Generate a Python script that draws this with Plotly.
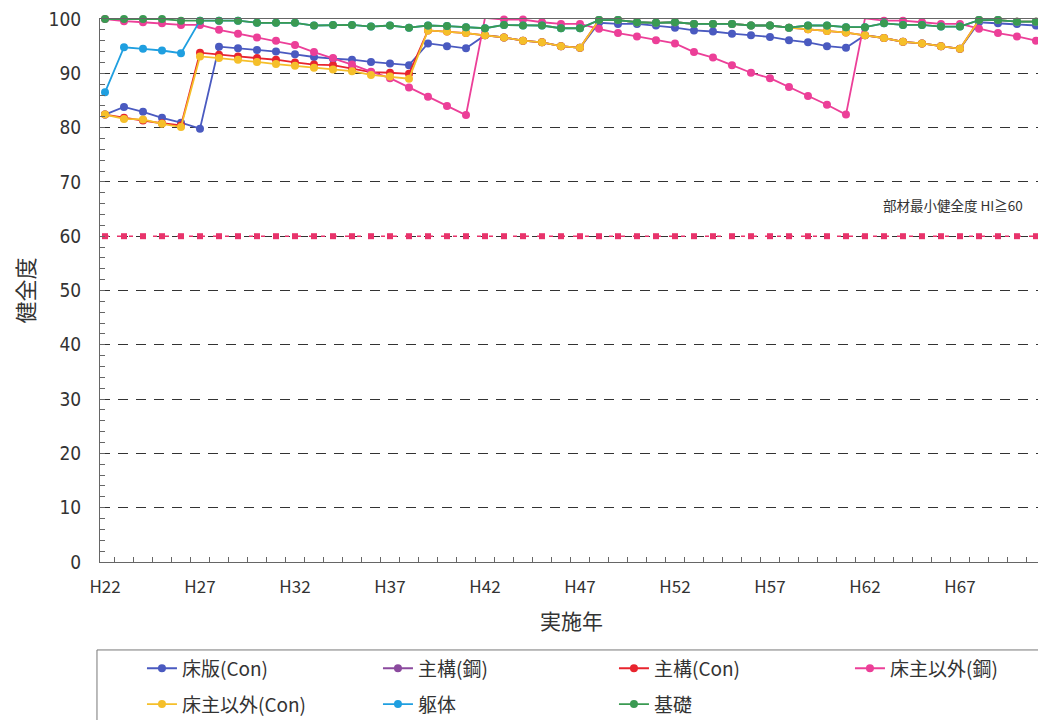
import plotly.graph_objects as go

years = list(range(22, 72))  # H22 .. H71

# 床版(Con)
slab_con = [82.4, 83.8, 82.9, 81.8, 80.9, 79.8, 94.9, 94.6, 94.3, 94.0,
            93.5, 93.0, 92.7, 92.5, 92.1, 91.8, 91.5, 95.5, 95.0, 94.6,
            97.0, 96.6, 96.0, 95.7, 95.0, 94.7, 99.3, 99.1, 99.1, 98.8,
            98.4, 97.9, 97.7, 97.3, 97.0, 96.7, 96.1, 95.7, 95.0, 94.7,
            97.0, 96.5, 95.8, 95.5, 95.0, 94.5, 99.4, 99.2, 99.1, 98.8]
# 主構(鋼) — no plotted values
main_steel = [None] * 50
# 主構(Con)
main_con = [82.4, 81.8, 81.3, 80.8, 80.4, 93.8, 93.4, 93.1, 92.8, 92.5,
            92.0, 91.6, 91.5, 90.8, 90.2, 90.1, 89.9, 97.9, 97.7, 97.4,
            97.0, 96.6, 96.0, 95.7, 95.0, 94.7, 99.8, 99.8, 99.4, 99.3,
            99.4, 99.1, 99.1, 99.1, 98.8, 98.8, 98.4, 98.1, 97.8, 97.5,
            97.0, 96.5, 95.8, 95.5, 95.0, 94.5, 99.8, 99.8, 99.5, 99.5]
# 床主以外(鋼)
other_steel = [100.0, 99.6, 99.4, 99.2, 98.9, 98.9, 98.0, 97.3, 96.6, 96.0,
               95.2, 93.9, 92.8, 91.6, 90.3, 89.1, 87.4, 85.7, 84.0, 82.3,
               100.2, 99.9, 99.9, 99.4, 99.1, 99.1, 98.2, 97.4, 96.8, 96.1,
               95.5, 93.9, 92.9, 91.5, 90.1, 89.1, 87.5, 85.8, 84.2, 82.4,
               100.1, 99.7, 99.7, 99.4, 99.1, 99.1, 98.2, 97.4, 96.8, 96.0]
# 床主以外(Con)
other_con = [82.4, 81.6, 81.5, 80.7, 80.1, 93.1, 92.8, 92.5, 92.1, 91.7,
             91.4, 91.0, 90.7, 90.4, 89.7, 89.4, 89.0, 97.9, 97.7, 97.4,
             97.0, 96.6, 96.0, 95.7, 95.0, 94.7, 99.8, 99.8, 99.4, 99.3,
             99.4, 99.1, 99.1, 99.1, 98.8, 98.8, 98.4, 98.1, 97.8, 97.5,
             97.0, 96.5, 95.8, 95.5, 95.0, 94.5, 99.8, 99.8, 99.5, 99.5]
# 躯体
body = [86.5, 94.8, 94.5, 94.2, 93.7, 99.7, 99.7, 99.7, 99.3, 99.3,
        99.3, 98.8, 98.9, 98.9, 98.6, 98.8, 98.4, 98.8, 98.7, 98.5,
        98.3, 98.9, 98.8, 98.8, 98.3, 98.3, 99.8, 99.8, 99.4, 99.3,
        99.4, 99.1, 99.1, 99.1, 98.8, 98.8, 98.4, 98.8, 98.8, 98.5,
        98.5, 99.2, 98.9, 98.9, 98.6, 98.6, 99.8, 99.8, 99.5, 99.5]
# 基礎
foundation = [100.0, 100.0, 100.0, 100.0, 99.7, 99.7, 99.7, 99.7, 99.3, 99.3,
              99.3, 98.8, 98.9, 98.9, 98.6, 98.8, 98.4, 98.8, 98.7, 98.5,
              98.3, 98.9, 98.8, 98.8, 98.3, 98.3, 99.8, 99.8, 99.4, 99.3,
              99.4, 99.1, 99.1, 99.1, 98.8, 98.8, 98.4, 98.8, 98.8, 98.5,
              98.5, 99.2, 98.9, 98.9, 98.6, 98.6, 99.8, 99.8, 99.5, 99.5]
# 部材最小健全度
threshold = [60] * 50

series = [
    ("床版(Con)", slab_con, "#4a5ac0", "legend"),
    ("主構(鋼)", main_steel, "#8b4a9e", "legend"),
    ("主構(Con)", main_con, "#e8242e", "legend"),
    ("床主以外(鋼)", other_steel, "#ec3f98", "legend"),
    ("床主以外(Con)", other_con, "#f5bf2a", "legend2"),
    ("躯体", body, "#1f9fe0", "legend2"),
    ("基礎", foundation, "#3a9a52", "legend2"),
]

FONT = "Noto Sans CJK JP"
NUMFONT = "Liberation Sans Narrow, DejaVu Sans Condensed, Liberation Sans"
fig = go.Figure()
for name, vals, col, leg in series:
    fig.add_trace(go.Scatter(
        x=years, y=vals, name=name, mode="lines+markers",
        line=dict(color=col, width=1.8),
        marker=dict(color=col, size=8),
        cliponaxis=False, legend=leg,
    ))

fig.add_trace(go.Scatter(
    x=years, y=threshold, mode="lines+markers", showlegend=False,
    line=dict(color="#e8336b", width=1.5, dash="4px,8px"),
    marker=dict(symbol="square", color="#e8336b", size=6),
    cliponaxis=False,
))

fig.add_annotation(
    x=70.4, y=65.7, xref="x", yref="y", text="部材最小健全度 HI≧60",
    showarrow=False, xanchor="right", yanchor="middle",
    font=dict(family=FONT, size=13.5, color="#333"),
)

# legend frame
fig.add_shape(type="rect", xref="paper", yref="paper",
              x0=-0.0032, x1=1.03, y0=-0.162, y1=-0.33,
              line=dict(color="#777", width=1), fillcolor="rgba(0,0,0,0)",
              layer="below")

leg_common = dict(
    orientation="h", xanchor="left", yanchor="top",
    entrywidth=191, entrywidthmode="pixels",
    borderwidth=0, bgcolor="rgba(0,0,0,0)",
    font=dict(family=FONT, size=19, color="#333"),
)

fig.update_layout(
    width=1046, height=720,
    margin=dict(l=92, r=11, t=11, b=166, autoexpand=False),
    paper_bgcolor="white", plot_bgcolor="white",
    font=dict(family=FONT, color="#333"),
    showlegend=True,
    legend=dict(x=0.0445, y=-0.161, **leg_common),
    legend2=dict(x=0.0445, y=-0.227, **leg_common),
    xaxis=dict(
        range=[21.737, 71.37], tickmode="linear", tick0=22, dtick=5,
        tickprefix="H", ticks="", showgrid=False, zeroline=False,
        showline=True, linecolor="#666", linewidth=1, mirror=True,
        automargin=False,
        tickfont=dict(family=FONT, size=17, color="#333"),
        ticklabelstandoff=10,
        minor=dict(tickmode="linear", tick0=22.5, dtick=1, ticks="inside",
                   ticklen=5, tickcolor="#666", showgrid=False),
        title=dict(text="実施年", font=dict(family=FONT, size=21, color="#333"),
                   standoff=16),
    ),
    yaxis=dict(
        range=[0, 100], tickmode="linear", tick0=0, dtick=10,
        ticks="inside", ticklen=5, tickcolor="#666",
        showgrid=True, gridcolor="#333", gridwidth=1, griddash="10px,8px",
        zeroline=False, showline=True, linecolor="#666", linewidth=1, mirror=True,
        automargin=False, ticklabeloverflow="allow",
        tickfont=dict(family=NUMFONT, size=19, color="#333"),
        ticklabelstandoff=14,
        minor=dict(tickmode="linear", tick0=0, dtick=2, ticks="inside",
                   ticklen=5, tickcolor="#666", showgrid=False),
        title=dict(text="健全度", font=dict(family=FONT, size=22, color="#333"),
                   standoff=14),
    ),
)

fig.write_html("out.html")
